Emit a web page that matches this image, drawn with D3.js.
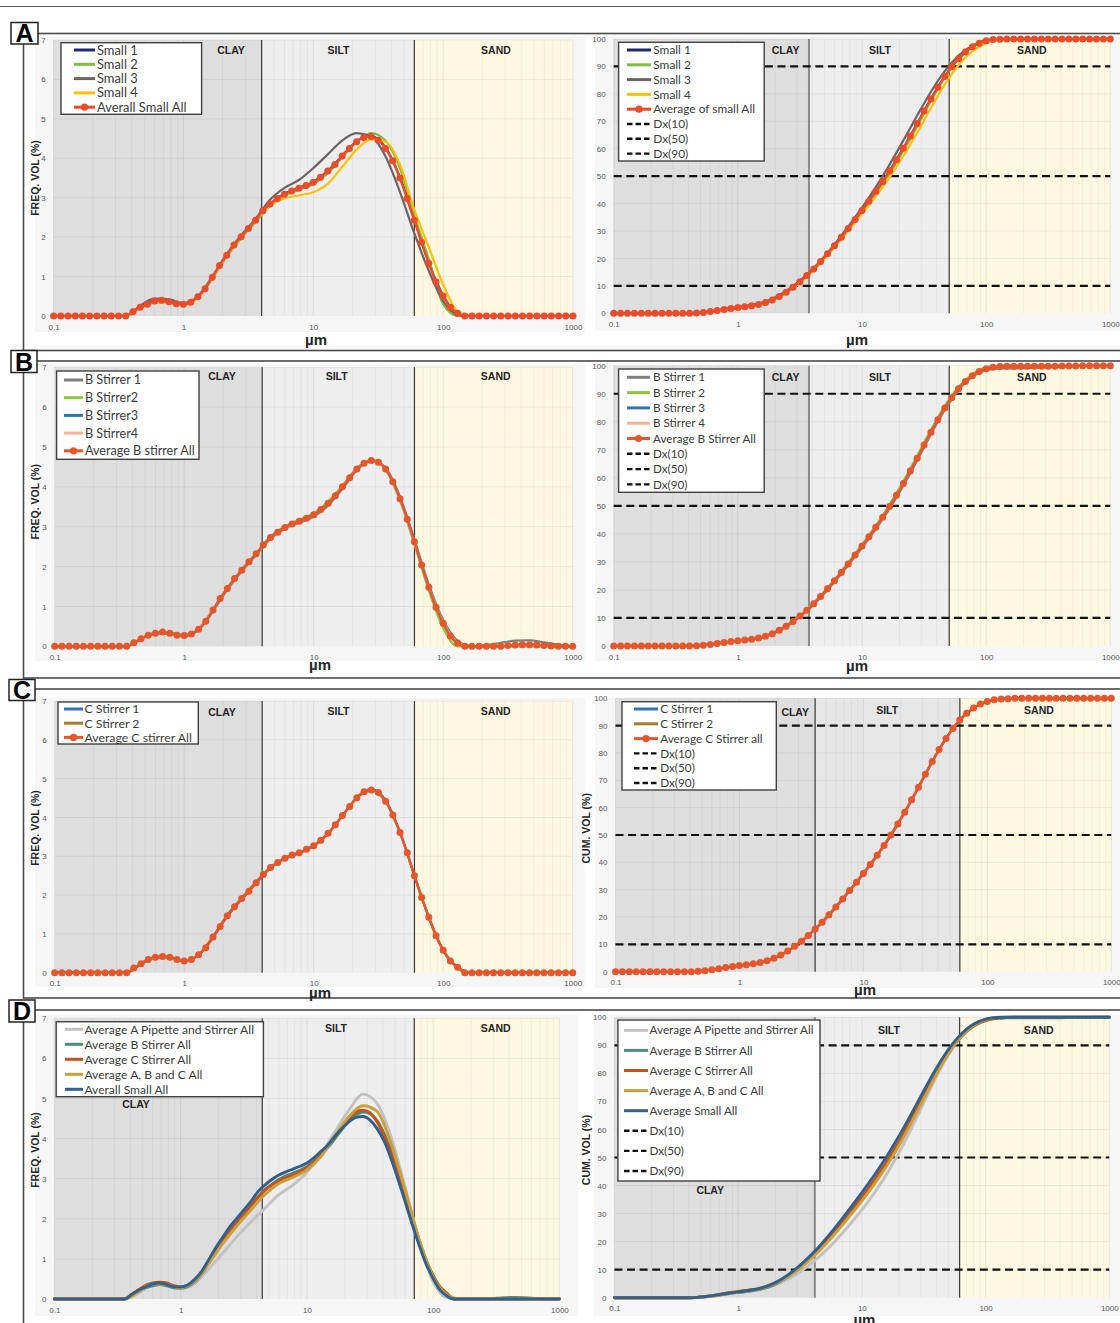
<!DOCTYPE html>
<html>
<head>
<meta charset="utf-8">
<script src="https://cdn.jsdelivr.net/npm/d3@7"></script>
<style>
  html, body { margin: 0; padding: 0; background: #ffffff; }
  svg { display: block; }
</style>
</head>
<body>
<script>
// ---------- size classes (µm), 18 bins per decade ----------
const sizeBins = [
  0.1, 0.1136, 0.1292, 0.1468, 0.1668, 0.1896, 0.2154, 0.2448, 0.2783, 0.3162,
  0.3594, 0.4084, 0.4642, 0.5275, 0.5995, 0.6813, 0.7743, 0.8799, 1,
  1.136, 1.292, 1.468, 1.668, 1.896, 2.154, 2.448, 2.783, 3.162,
  3.594, 4.084, 4.642, 5.275, 5.995, 6.813, 7.743, 8.799, 10,
  11.36, 12.92, 14.68, 16.68, 18.96, 21.54, 24.48, 27.83, 31.62,
  35.94, 40.84, 46.42, 52.75, 59.95, 68.13, 77.43, 87.99, 100,
  113.6, 129.2, 146.8, 166.8, 189.6, 215.4, 244.8, 278.3, 316.2,
  359.4, 408.4, 464.2, 527.5, 599.5, 681.3, 774.3, 879.9, 1000
];
// individual runs are stored on every second size class
const lineBins = sizeBins.filter((d, i) => i % 2 === 0);

const xTickVals = [0.1, 1, 10, 100, 1000];
const dxLevels = [10, 50, 90];
const dxLabels = ["Dx(10)", "Dx(50)", "Dx(90)"];
const zoneNames = ["CLAY", "SILT", "SAND"];

// ---------- frequency volume (%) ----------
const freqSmallAvg = [0,0,0,0,0,0,0,0,0,0,0,
  0.11,0.22,0.30,0.38,0.40,0.36,0.31,0.30,0.35,0.49,
  0.69,0.98,1.28,1.54,1.80,2.01,2.22,2.43,2.67,2.84,
  2.98,3.09,3.17,3.24,3.31,3.39,3.52,3.68,3.84,4.06,
  4.25,4.42,4.53,4.55,4.46,4.25,3.94,3.50,2.98,2.43,
  1.87,1.34,0.87,0.51,0.22,0.07,
  0,0,0,0,0,0,0,0,0,0,0,0,0,0,0,0];
const freqSmall1 = [0,0,0,0,0,0, 0.22,0.39,0.37,0.30,0.49,0.98,1.54,2.01,2.43,2.84,3.10,3.25,3.40,3.68,4.06,4.43,4.56,4.27,3.52,2.45,1.36,0.52,0.06, 0,0,0,0,0,0,0,0];
const freqSmall2 = [0,0,0,0,0,0, 0.20,0.36,0.35,0.29,0.47,0.95,1.50,1.97,2.38,2.80,3.05,3.20,3.34,3.62,4.02,4.42,4.64,4.45,3.75,2.55,1.45,0.30,0, 0,0,0,0,0,0,0,0];
const freqSmall3 = [0,0,0,0,0,0, 0.26,0.44,0.42,0.33,0.50,1.00,1.57,2.05,2.47,2.95,3.25,3.45,3.75,4.10,4.45,4.64,4.55,4.05,3.15,2.10,1.15,0.38,0.03, 0,0,0,0,0,0,0,0];
const freqSmall4 = [0,0,0,0,0,0, 0.19,0.34,0.33,0.28,0.46,0.96,1.52,2.00,2.42,2.80,2.98,3.06,3.14,3.35,3.78,4.22,4.48,4.42,3.85,2.70,1.75,0.80,0.12, 0,0,0,0,0,0,0,0];

const freqBAvg = [0,0,0,0,0,0,0,0,0,0,0,
  0.09,0.19,0.28,0.33,0.36,0.33,0.28,0.27,0.31,0.43,
  0.63,0.91,1.20,1.45,1.70,1.91,2.12,2.32,2.54,2.73,
  2.86,2.98,3.07,3.14,3.21,3.30,3.43,3.59,3.78,4.00,
  4.23,4.45,4.59,4.66,4.62,4.45,4.13,3.70,3.19,2.62,
  2.04,1.48,0.98,0.58,0.26,0.08,0,
  0,0,0,0,0,0.02,0.03,0.04,0.04,0.03,0.02,0.01,0,0,0];
const freqB1 = [0,0,0,0,0,0, 0.18,0.32,0.32,0.26,0.41,0.88,1.42,1.88,2.29,2.70,2.95,3.10,3.25,3.53,3.95,4.42,4.65,4.47,3.75,2.68,1.55,0.66,0.14, 0,0.03,0.09,0.14,0.15,0.10,0.04,0];
const freqB2 = [0,0,0,0,0,0, 0.19,0.34,0.34,0.28,0.44,0.93,1.47,1.93,2.34,2.76,3.01,3.18,3.34,3.64,4.04,4.47,4.67,4.43,3.65,2.55,1.40,0.45,0, 0,0,0,0,0,0,0,0];
const freqB3 = [0,0,0,0,0,0, 0.19,0.33,0.33,0.27,0.43,0.91,1.45,1.91,2.32,2.73,2.98,3.14,3.30,3.59,4.00,4.45,4.66,4.45,3.70,2.62,1.48,0.58,0.08, 0,0,0,0.03,0.04,0.02,0,0];
const freqB4 = [0,0,0,0,0,0, 0.20,0.34,0.33,0.27,0.44,0.92,1.46,1.92,2.33,2.73,2.97,3.13,3.30,3.60,4.02,4.46,4.66,4.44,3.68,2.60,1.48,0.60,0.10, 0,0,0,0,0,0,0,0];

const freqCAvg = [0,0,0,0,0,0,0,0,0,0,0,
  0.12,0.23,0.34,0.40,0.42,0.40,0.34,0.30,0.34,0.46,
  0.64,0.92,1.19,1.47,1.70,1.91,2.10,2.32,2.53,2.71,
  2.84,2.95,3.03,3.09,3.18,3.27,3.41,3.59,3.81,4.05,
  4.28,4.51,4.66,4.71,4.64,4.42,4.06,3.61,3.09,2.50,
  1.94,1.43,0.95,0.58,0.30,0.14,
  0,0,0,0,0,0,0,0,0,0,0,0,0,0,0,0];
const freqC1 = [0,0,0,0,0,0, 0.22,0.39,0.40,0.30,0.45,0.90,1.45,1.89,2.30,2.70,2.94,3.08,3.26,3.58,4.05,4.52,4.73,4.44,3.62,2.50,1.42,0.57,0.13, 0,0,0,0,0,0,0,0];
const freqC2 = [0,0,0,0,0,0, 0.24,0.41,0.40,0.30,0.47,0.94,1.49,1.93,2.34,2.72,2.96,3.10,3.28,3.60,4.05,4.50,4.69,4.40,3.60,2.50,1.44,0.59,0.15, 0,0,0,0,0,0,0,0];

const freqAvgA = [0,0,0,0,0,0, 0.14,0.34,0.36,0.26,0.38,0.75,1.14,1.55,1.92,2.26,2.60,2.84,3.16,3.62,4.17,4.71,5.11,4.88,4.05,2.80,1.47,0.43,0.03, 0,0,0,0,0,0,0,0];
const freqAvgABC = [0,0,0,0,0,0, 0.18,0.38,0.36,0.28,0.45,0.88,1.38,1.82,2.22,2.60,2.88,3.03,3.22,3.55,4.07,4.55,4.82,4.68,3.88,2.72,1.48,0.55,0.10, 0,0,0,0,0,0,0,0];

// ---------- cumulative volume (%) ----------
const cumSmallAvg = [0,0,0,0,0,0,0,0,0,0,0,0,
  0.11,0.33,0.63,1.01,1.41,1.77,2.08,2.38,2.73,3.22,
  3.91,4.89,6.17,7.71,9.51,11.52,13.74,16.17,18.84,21.68,
  24.66,27.75,30.92,34.16,37.47,40.86,44.38,48.06,51.90,55.96,
  60.21,64.63,69.16,73.71,78.17,82.42,86.36,89.86,92.84,95.27,
  97.14,98.48,99.35,99.80,99.95,
  100,100,100,100,100,100,100,100,100,100,100,100,100,100,100,100];
const cumSmall1 = [0,0,0,0,0,0, 0.11,0.63,1.41,2.08,2.73,3.91,6.17,9.51,13.74,18.84,24.66,30.92,37.47,44.38,51.90,60.21,69.16,78.17,86.36,92.84,97.14,99.35,99.95, 100,100,100,100,100,100,100,100];
const cumSmall2 = [0,0,0,0,0,0, 0.10,0.58,1.30,1.97,2.64,3.82,6.00,9.24,13.39,18.36,24.09,30.27,36.74,43.56,51.00,59.24,68.19,77.38,85.93,92.83,97.38,99.71,100, 100,100,100,100,100,100,100,100];
const cumSmall3 = [0,0,0,0,0,0, 0.13,0.74,1.60,2.37,3.09,4.31,6.55,9.86,14.09,19.17,25.10,31.57,38.48,46.00,54.22,63.04,72.10,80.77,88.27,93.93,97.58,99.30,99.90, 100,100,100,100,100,100,100,100];
const cumSmall4 = [0,0,0,0,0,0, 0.09,0.55,1.23,1.87,2.52,3.69,5.89,9.17,13.38,18.41,24.10,30.10,36.26,42.65,49.57,57.35,65.92,74.85,83.42,90.55,95.47,98.50,99.76, 100,100,100,100,100,100,100,100];

const cumBAvg = [0,0,0,0,0,0,0,0,0,0,0,0,
  0.09,0.28,0.56,0.89,1.25,1.58,1.86,2.13,2.44,2.87,
  3.50,4.41,5.61,7.06,8.76,10.67,12.79,15.11,17.65,20.38,
  23.24,26.22,29.29,32.43,35.64,38.94,42.37,45.96,49.74,53.74,
  57.97,62.42,67.01,71.67,76.29,80.74,84.87,88.57,91.76,94.38,
  96.42,97.90,98.88,99.46,99.72,99.80,99.80,99.80,99.80,99.80,
  99.80,99.80,99.82,99.85,99.89,99.93,99.96,99.98,100,100,100];
const cumB1 = [0,0,0,0,0,0, 0.09,0.54,1.21,1.80,2.36,3.38,5.43,8.52,12.48,17.28,22.81,28.78,35.05,41.69,48.98,57.17,66.22,75.54,84.22,91.26,96.03,98.40,99.00, 99.05,99.12,99.30,99.58,99.86,99.98,100,100];
const cumB2 = [0,0,0,0,0,0, 0.10,0.58,1.29,1.93,2.53,3.64,5.79,9.00,13.10,18.02,23.68,29.80,36.23,43.05,50.52,58.82,67.90,77.20,85.70,92.50,97.00,99.40,100, 100,100,100,100,100,100,100,100];
const cumB3 = [0,0,0,0,0,0, 0.09,0.56,1.25,1.86,2.44,3.50,5.61,8.76,12.79,17.65,23.24,29.29,35.64,42.37,49.74,57.97,67.01,76.29,84.87,91.76,96.42,98.88,99.72, 99.80,99.80,99.80,99.82,99.89,99.96,100,100];
const cumB4 = [0,0,0,0,0,0, 0.10,0.57,1.27,1.88,2.47,3.54,5.66,8.83,12.87,17.73,23.31,29.34,35.67,42.39,49.78,58.04,67.08,76.32,84.85,91.68,96.32,98.84,99.76, 100,100,100,100,100,100,100,100];

const cumCAvg = [0,0,0,0,0,0,0,0,0,0,0,0,
  0.12,0.35,0.69,1.09,1.51,1.91,2.25,2.55,2.89,3.35,
  3.99,4.91,6.10,7.57,9.27,11.18,13.28,15.60,18.13,20.84,
  23.68,26.63,29.66,32.75,35.93,39.20,42.61,46.20,50.01,54.06,
  58.34,62.85,67.51,72.22,76.86,81.28,85.34,88.95,92.04,94.54,
  96.48,97.91,98.86,99.44,99.74,99.88,
  100,100,100,100,100,100,100,100,100,100,100,100,100,100,100];
const cumC1 = [0,0,0,0,0,0, 0.11,0.67,1.48,2.22,2.85,3.93,6.02,9.16,13.14,17.97,23.50,29.47,35.73,42.40,49.79,58.13,67.32,76.71,85.24,91.98,96.45,98.85,99.73, 100,100,100,100,100,100,100,100];
const cumC2 = [0,0,0,0,0,0, 0.13,0.71,1.54,2.28,2.93,4.05,6.18,9.38,13.42,18.29,23.86,29.85,36.13,42.82,50.23,58.55,67.70,77.01,85.44,92.10,96.51,98.87,99.75, 100,100,100,100,100,100,100,100];

const cumAvgA = [0,0,0,0,0,0, 0.05,0.44,1.16,1.85,2.42,3.38,5.12,7.66,11.02,15.11,19.90,25.33,31.29,37.98,45.66,54.45,64.27,74.60,84.14,91.78,96.82,99.29,99.96, 100,100,100,100,100,100,100,100];
const cumAvgABC = [0,0,0,0,0,0, 0.08,0.54,1.29,1.97,2.62,3.74,5.75,8.73,12.57,17.20,22.54,28.38,34.54,41.15,48.51,56.89,66.13,75.70,84.66,91.84,96.66,99.16,100, 100,100,100,100,100,100,100,100];

// ---------- series colours ----------
const C = {
  small1: "#1f2a6e", small2: "#7cc043", small3: "#6f6464", small4: "#ffc000", avgRed: "#ea4b2a",
  b1: "#7f7f7f", b2: "#8dc63f", b3: "#2e75b6", b4: "#f4b49a", avgOrange: "#e5562b",
  c1: "#2e75b6", c2: "#a87b2d",
  dA: "#c2c2c2", dB: "#4f8d7c", dC: "#c8521a", dABC: "#cba03b", dSmall: "#325f8c"
};

const W = 1120, H = 1323;
const svg = d3.select("body").append("svg").attr("width", W).attr("height", H);
const FONT = "'Liberation Sans', Arial, sans-serif";
const LEGEND_FONT = "Lato, 'Open Sans', sans-serif";

// ---------- panel frames ----------
svg.append("line").attr("x1", 0).attr("x2", W).attr("y1", 6.5).attr("y2", 6.5)
  .attr("stroke", "#555").attr("stroke-width", 1.2);

const frames = [
  { letter: "A", top: 33.5, bottom: 350.5, box: [11, 22.5, 27, 21.5] },
  { letter: "B", top: 361, bottom: 678, box: [11, 350.5, 26, 22] },
  { letter: "C", top: 689, bottom: 998, box: [9, 679.5, 26, 21] },
  { letter: "D", top: 1010, bottom: 1345, box: [9, 1000, 26, 22] }
];

function drawFrame(f) {
  svg.append("rect").attr("x", 23.5).attr("y", f.top).attr("width", W + 10)
    .attr("height", f.bottom - f.top).attr("fill", "none")
    .attr("stroke", "#4a4a4a").attr("stroke-width", 1.6);
}
frames.forEach(drawFrame);

// ---------- chart definitions ----------
const s = (label, color, bins, values, opts = {}) => Object.assign({ label, color, bins, values, width: 2.2 }, opts);

const charts = [
  { // A, frequency
    area: [35, 37, 585, 332], plot: { x0: 53.6, x1: 573, yTop: 40, yBot: 316 },
    yMax: 7, yStep: 1, clay: 4, sand: 60,
    zoneLabels: [[231, 50], [338.5, 50], [496, 50]],
    legend: { x: 61, y: 42.7, w: 140.6, h: 71.6, row0: 50, step: 14.3, lx0: 74, lx1: 95, tx: 97, fs: 12.9 },
    yTitle: { text: "FREQ. VOL (%)", x: 35, y: 178 }, xTitle: [316, 340],
    series: [
      s("Small 1", C.small1, lineBins, freqSmall1),
      s("Small 2", C.small2, lineBins, freqSmall2),
      s("Small 3", C.small3, lineBins, freqSmall3),
      s("Small 4", C.small4, lineBins, freqSmall4),
      s("Averall Small All", C.avgRed, sizeBins, freqSmallAvg, { markers: true, width: 2.4 })
    ]
  },
  { // A, cumulative
    area: [595, 37, 1120, 331], plot: { x0: 613.7, x1: 1110.3, yTop: 39, yBot: 313.3 },
    yMax: 100, yStep: 10, clay: 3.74, sand: 50.4, clayLine: "grey", dx: true,
    zoneLabels: [[785.6, 50], [880, 50], [1031.8, 50]],
    legend: { x: 618.6, y: 42.3, w: 145.6, h: 118.7, row0: 50, step: 14.8, lx0: 627, lx1: 651, tx: 653.3, fs: 11.9 },
    xTitle: [857, 340],
    series: [
      s("Small 1", C.small1, lineBins, cumSmall1),
      s("Small 2", C.small2, lineBins, cumSmall2),
      s("Small 3", C.small3, lineBins, cumSmall3),
      s("Small 4", C.small4, lineBins, cumSmall4),
      s("Average of small All", C.avgRed, sizeBins, cumSmallAvg, { markers: true, width: 2.4 })
    ]
  },
  { // B, frequency
    area: [35, 364, 585, 661], plot: { x0: 54.7, x1: 572.7, yTop: 367.3, yBot: 646.3 },
    yMax: 7, yStep: 1, clay: 4, sand: 60,
    zoneLabels: [[222, 376.7], [336.7, 376.7], [495.7, 376.7]],
    legend: { x: 56.6, y: 371, w: 142.4, h: 88.3, row0: 380, step: 17.7, lx0: 64, lx1: 83, tx: 85, fs: 12.6 },
    yTitle: { text: "FREQ. VOL (%)", x: 35, y: 501.7 }, xTitle: [320, 665],
    series: [
      s("B Stirrer 1", C.b1, lineBins, freqB1),
      s("B Stirrer2", C.b2, lineBins, freqB2),
      s("B Stirrer3", C.b3, lineBins, freqB3),
      s("B Stirrer4", C.b4, lineBins, freqB4),
      s("Average B stirrer All", C.avgOrange, sizeBins, freqBAvg, { markers: true, width: 2.4 })
    ]
  },
  { // B, cumulative
    area: [595, 364, 1120, 661], plot: { x0: 613.7, x1: 1110.3, yTop: 365.7, yBot: 646 },
    yMax: 100, yStep: 10, clay: 3.74, sand: 50.4, clayLine: "grey", dx: true,
    zoneLabels: [[785.6, 377.7], [880, 377.7], [1031.8, 377.7]],
    legend: { x: 618.6, y: 369, w: 145.6, h: 123.3, row0: 377.3, step: 15.3, lx0: 627, lx1: 650, tx: 653, fs: 11.7 },
    xTitle: [857, 666],
    series: [
      s("B Stirrer 1", C.b1, lineBins, cumB1),
      s("B Stirrer 2", C.b2, lineBins, cumB2),
      s("B Stirrer 3", C.b3, lineBins, cumB3),
      s("B Stirrer 4", C.b4, lineBins, cumB4),
      s("Average B Stirrer All", C.avgOrange, sizeBins, cumBAvg, { markers: true, width: 2.4 })
    ]
  },
  { // C, frequency
    area: [35, 698, 585, 987], plot: { x0: 54.7, x1: 572.7, yTop: 701, yBot: 972.7 },
    yMax: 7, yStep: 1, clay: 4, sand: 60,
    zoneLabels: [[222, 712.7], [338.5, 711.7], [495.7, 711.7]],
    legend: { x: 58, y: 702, w: 140.3, h: 42, row0: 709, step: 14.2, lx0: 64, lx1: 83, tx: 84.4, fs: 12.3 },
    yTitle: { text: "FREQ. VOL (%)", x: 35, y: 828 }, xTitle: [320, 992.7],
    series: [
      s("C Stirrer 1", C.c1, lineBins, freqC1),
      s("C Stirrer 2", C.c2, lineBins, freqC2),
      s("Average C stirrer All", C.avgOrange, sizeBins, freqCAvg, { markers: true, width: 2.4 })
    ]
  },
  { // C, cumulative
    area: [595, 698, 1120, 988], plot: { x0: 615.5, x1: 1111.3, yTop: 698.3, yBot: 971.7 },
    yMax: 100, yStep: 10, clay: 4.08, sand: 60, siltFill: "#e6e6e6", dx: true,
    zoneLabels: [[795.2, 712.3], [887.2, 710.7], [1039, 710.7]],
    legend: { x: 622, y: 701.7, w: 154.3, h: 88.3, row0: 709, step: 14.8, lx0: 634, lx1: 658, tx: 660.2, fs: 11.8 },
    yTitle: { text: "CUM. VOL (%)", x: 586.2, y: 828.3 }, xTitle: [865, 989.3],
    series: [
      s("C Stirrer 1", C.c1, lineBins, cumC1),
      s("C Stirrer 2", C.c2, lineBins, cumC2),
      s("Average C Stirrer all", C.avgOrange, sizeBins, cumCAvg, { markers: true, width: 2.4 })
    ]
  },
  { // D, frequency
    area: [35, 1015, 578, 1316], plot: { x0: 54.4, x1: 559.4, yTop: 1018.3, yBot: 1299 },
    yMax: 7, yStep: 1, clay: 4.43, sand: 70.9,
    zoneLabels: [[136, 1104.3], [336, 1028.3], [495.7, 1028.3]],
    legend: { x: 56.2, y: 1021.7, w: 207.2, h: 75, row0: 1029.3, step: 15, lx0: 65, lx1: 83, tx: 84.4, fs: 12.1 },
    yTitle: { text: "FREQ. VOL (%)", x: 35, y: 1150 },
    series: [
      s("Average A Pipette and Stirrer All", C.dA, lineBins, freqAvgA, { width: 2.9 }),
      s("Average B Stirrer All", C.dB, sizeBins, freqBAvg, { width: 2.9 }),
      s("Average C Stirrer All", C.dC, sizeBins, freqCAvg, { width: 2.9 }),
      s("Average A, B and C All", C.dABC, lineBins, freqAvgABC, { width: 2.9 }),
      s("Averall Small All", C.dSmall, sizeBins, freqSmallAvg, { width: 2.9 })
    ]
  },
  { // D, cumulative
    area: [594, 1015, 1120, 1316], plot: { x0: 614.4, x1: 1109.3, yTop: 1017.3, yBot: 1297.7 },
    yMax: 100, yStep: 10, clay: 4.17, sand: 61.7, clayLine: "grey", dx: true,
    zoneLabels: [[710.2, 1190.3], [888.9, 1030], [1038.7, 1030]],
    legend: { x: 617.9, y: 1020, w: 202.1, h: 161, row0: 1030.3, step: 20.1, lx0: 624, lx1: 648, tx: 649.6, fs: 11.7 },
    yTitle: { text: "CUM. VOL (%)", x: 586, y: 1150 }, xTitle: [864.4, 1320],
    series: [
      s("Average A Pipette and Stirrer All", C.dA, lineBins, cumAvgA, { width: 2.9 }),
      s("Average B Stirrer All", C.dB, sizeBins, cumBAvg, { width: 2.9 }),
      s("Average C Stirrer All", C.dC, sizeBins, cumCAvg, { width: 2.9 }),
      s("Average A, B and C All", C.dABC, lineBins, cumAvgABC, { width: 2.9 }),
      s("Average Small All", C.dSmall, sizeBins, cumSmallAvg, { width: 2.9 })
    ]
  }
];

// ---------- drawing ----------
function drawChart(spec) {
  const p = spec.plot;
  const x = d3.scaleLog().domain([0.1, 1000]).range([p.x0, p.x1]);
  const y = d3.scaleLinear().domain([0, spec.yMax]).range([p.yBot, p.yTop]);
  const g = svg.append("g");
  const a = spec.area;

  g.append("rect").attr("x", a[0]).attr("y", a[1])
    .attr("width", a[2] - a[0]).attr("height", a[3] - a[1]).attr("fill", "#f6f6f6");

  // texture zones
  const zones = [
    { from: 0.1, to: spec.clay, fill: "#dedede" },
    { from: spec.clay, to: spec.sand, fill: spec.siltFill || "#eeeeee" },
    { from: spec.sand, to: 1000, fill: "#fdf8e1" }
  ];
  g.append("g").selectAll("rect").data(zones).join("rect")
    .attr("x", d => x(d.from)).attr("width", d => x(d.to) - x(d.from))
    .attr("y", p.yTop).attr("height", p.yBot - p.yTop).attr("fill", d => d.fill);

  // gridlines
  const isDecade = v => Math.abs(Math.log10(v) - Math.round(Math.log10(v))) < 1e-6;
  g.append("g").selectAll("line").data(x.ticks()).join("line")
    .attr("x1", d => x(d)).attr("x2", d => x(d)).attr("y1", p.yTop).attr("y2", p.yBot)
    .attr("stroke", "#000").attr("stroke-width", 1)
    .attr("stroke-opacity", d => isDecade(d) ? 0.075 : 0.045);
  const yTicks = d3.range(0, spec.yMax + spec.yStep / 2, spec.yStep);
  g.append("g").selectAll("line").data(yTicks.slice(1)).join("line")
    .attr("x1", p.x0).attr("x2", p.x1).attr("y1", d => y(d)).attr("y2", d => y(d))
    .attr("stroke", "#000").attr("stroke-width", 1).attr("stroke-opacity", 0.06);

  // zone boundaries
  g.append("line").attr("x1", x(spec.clay)).attr("x2", x(spec.clay))
    .attr("y1", p.yTop).attr("y2", p.yBot)
    .attr("stroke", spec.clayLine === "grey" ? "#8a8a8a" : "#3a3a3a")
    .attr("stroke-width", spec.clayLine === "grey" ? 2 : 1.2);
  g.append("line").attr("x1", x(spec.sand)).attr("x2", x(spec.sand))
    .attr("y1", p.yTop).attr("y2", p.yBot).attr("stroke", "#3a3a3a").attr("stroke-width", 1.2);

  // Dx reference levels
  if (spec.dx) {
    g.append("g").selectAll("line").data(dxLevels).join("line")
      .attr("x1", p.x0).attr("x2", p.x1).attr("y1", d => y(d)).attr("y2", d => y(d))
      .attr("stroke", "#111").attr("stroke-width", 2.2).attr("stroke-dasharray", "8,4.6");
  }

  // series
  const line = d3.line().x(d => x(d[0])).y(d => y(d[1])).curve(d3.curveMonotoneX);
  spec.series.forEach(se => {
    const pts = se.bins.map((b, i) => [b, se.values[i]]);
    g.append("path").datum(pts).attr("d", line).attr("fill", "none")
      .attr("stroke", se.color).attr("stroke-width", se.width)
      .attr("stroke-linejoin", "round").attr("stroke-linecap", "round");
    if (se.markers) {
      g.append("g").selectAll("circle").data(pts).join("circle")
        .attr("cx", d => x(d[0])).attr("cy", d => y(d[1])).attr("r", 3.5)
        .attr("fill", se.color);
    }
  });

  // axes (labels only)
  const xAxis = d3.axisBottom(x).tickValues(xTickVals).tickFormat(d => String(d))
    .tickSize(0).tickPadding(8);
  const gx = g.append("g").attr("transform", `translate(0,${p.yBot})`).call(xAxis);
  gx.select(".domain").remove();
  gx.selectAll("text").attr("font-size", 8).attr("font-family", FONT).attr("fill", "#595959");

  const yAxis = d3.axisLeft(y).tickValues(yTicks).tickFormat(d3.format("d"))
    .tickSize(0).tickPadding(8);
  const gy = g.append("g").attr("transform", `translate(${p.x0},0)`).call(yAxis);
  gy.select(".domain").remove();
  gy.selectAll("text").attr("font-size", 8).attr("font-family", FONT).attr("fill", "#595959");

  // legend
  const L = spec.legend;
  const items = spec.series.map(se => ({ label: se.label, color: se.color, kind: se.markers ? "marker" : "line" }));
  if (spec.dx) dxLabels.forEach(t => items.push({ label: t, color: "#111", kind: "dash" }));
  const lg = g.append("g");
  lg.append("rect").attr("x", L.x).attr("y", L.y).attr("width", L.w).attr("height", L.h)
    .attr("fill", "#ffffff").attr("stroke", "#404040").attr("stroke-width", 1.4);
  const rows = lg.selectAll("g").data(items).join("g")
    .attr("transform", (d, i) => `translate(0,${L.row0 + i * L.step})`);
  rows.append("line").attr("x1", L.lx0).attr("x2", L.lx1).attr("y1", 0).attr("y2", 0)
    .attr("stroke", d => d.color).attr("stroke-width", d => d.kind === "dash" ? 2.4 : 3)
    .attr("stroke-dasharray", d => d.kind === "dash" ? "5.5,3" : null);
  rows.filter(d => d.kind === "marker").append("circle")
    .attr("cx", (L.lx0 + L.lx1) / 2).attr("cy", 0).attr("r", 3.6).attr("fill", d => d.color);
  rows.append("text").attr("x", L.tx).attr("y", 0).attr("dy", "0.35em")
    .attr("font-family", LEGEND_FONT).attr("font-size", L.fs).attr("fill", "#3c3c3c")
    .text(d => d.label);

  // zone names
  g.append("g").selectAll("text").data(spec.zoneLabels).join("text")
    .attr("x", d => d[0]).attr("y", d => d[1]).attr("dy", "0.35em")
    .attr("text-anchor", "middle").attr("font-family", FONT).attr("font-weight", "bold")
    .attr("font-size", 10.5).attr("fill", "#262626")
    .text((d, i) => zoneNames[i]);

  // axis titles
  if (spec.yTitle) {
    g.append("text").attr("transform", `translate(${spec.yTitle.x},${spec.yTitle.y}) rotate(-90)`)
      .attr("dy", "0.35em").attr("text-anchor", "middle")
      .attr("font-family", FONT).attr("font-weight", "bold").attr("font-size", 10.5)
      .attr("fill", "#262626").text(spec.yTitle.text);
  }
  if (spec.xTitle) {
    g.append("text").attr("x", spec.xTitle[0]).attr("y", spec.xTitle[1]).attr("dy", "0.35em")
      .attr("text-anchor", "middle").attr("font-family", FONT).attr("font-weight", "bold")
      .attr("font-size", 15).attr("fill", "#262626").text("µm");
  }
}

charts.forEach(drawChart);

// panel letters on top
frames.forEach(f => {
  const [bx, by, bw, bh] = f.box;
  svg.append("rect").attr("x", bx).attr("y", by).attr("width", bw).attr("height", bh)
    .attr("fill", "#ffffff").attr("stroke", "#222").attr("stroke-width", 1.5);
  svg.append("text").attr("x", bx + bw / 2).attr("y", by + bh / 2).attr("dy", "0.36em")
    .attr("text-anchor", "middle").attr("font-family", FONT).attr("font-weight", "bold")
    .attr("font-size", 25).attr("fill", "#000").text(f.letter);
});
</script>
</body>
</html>
